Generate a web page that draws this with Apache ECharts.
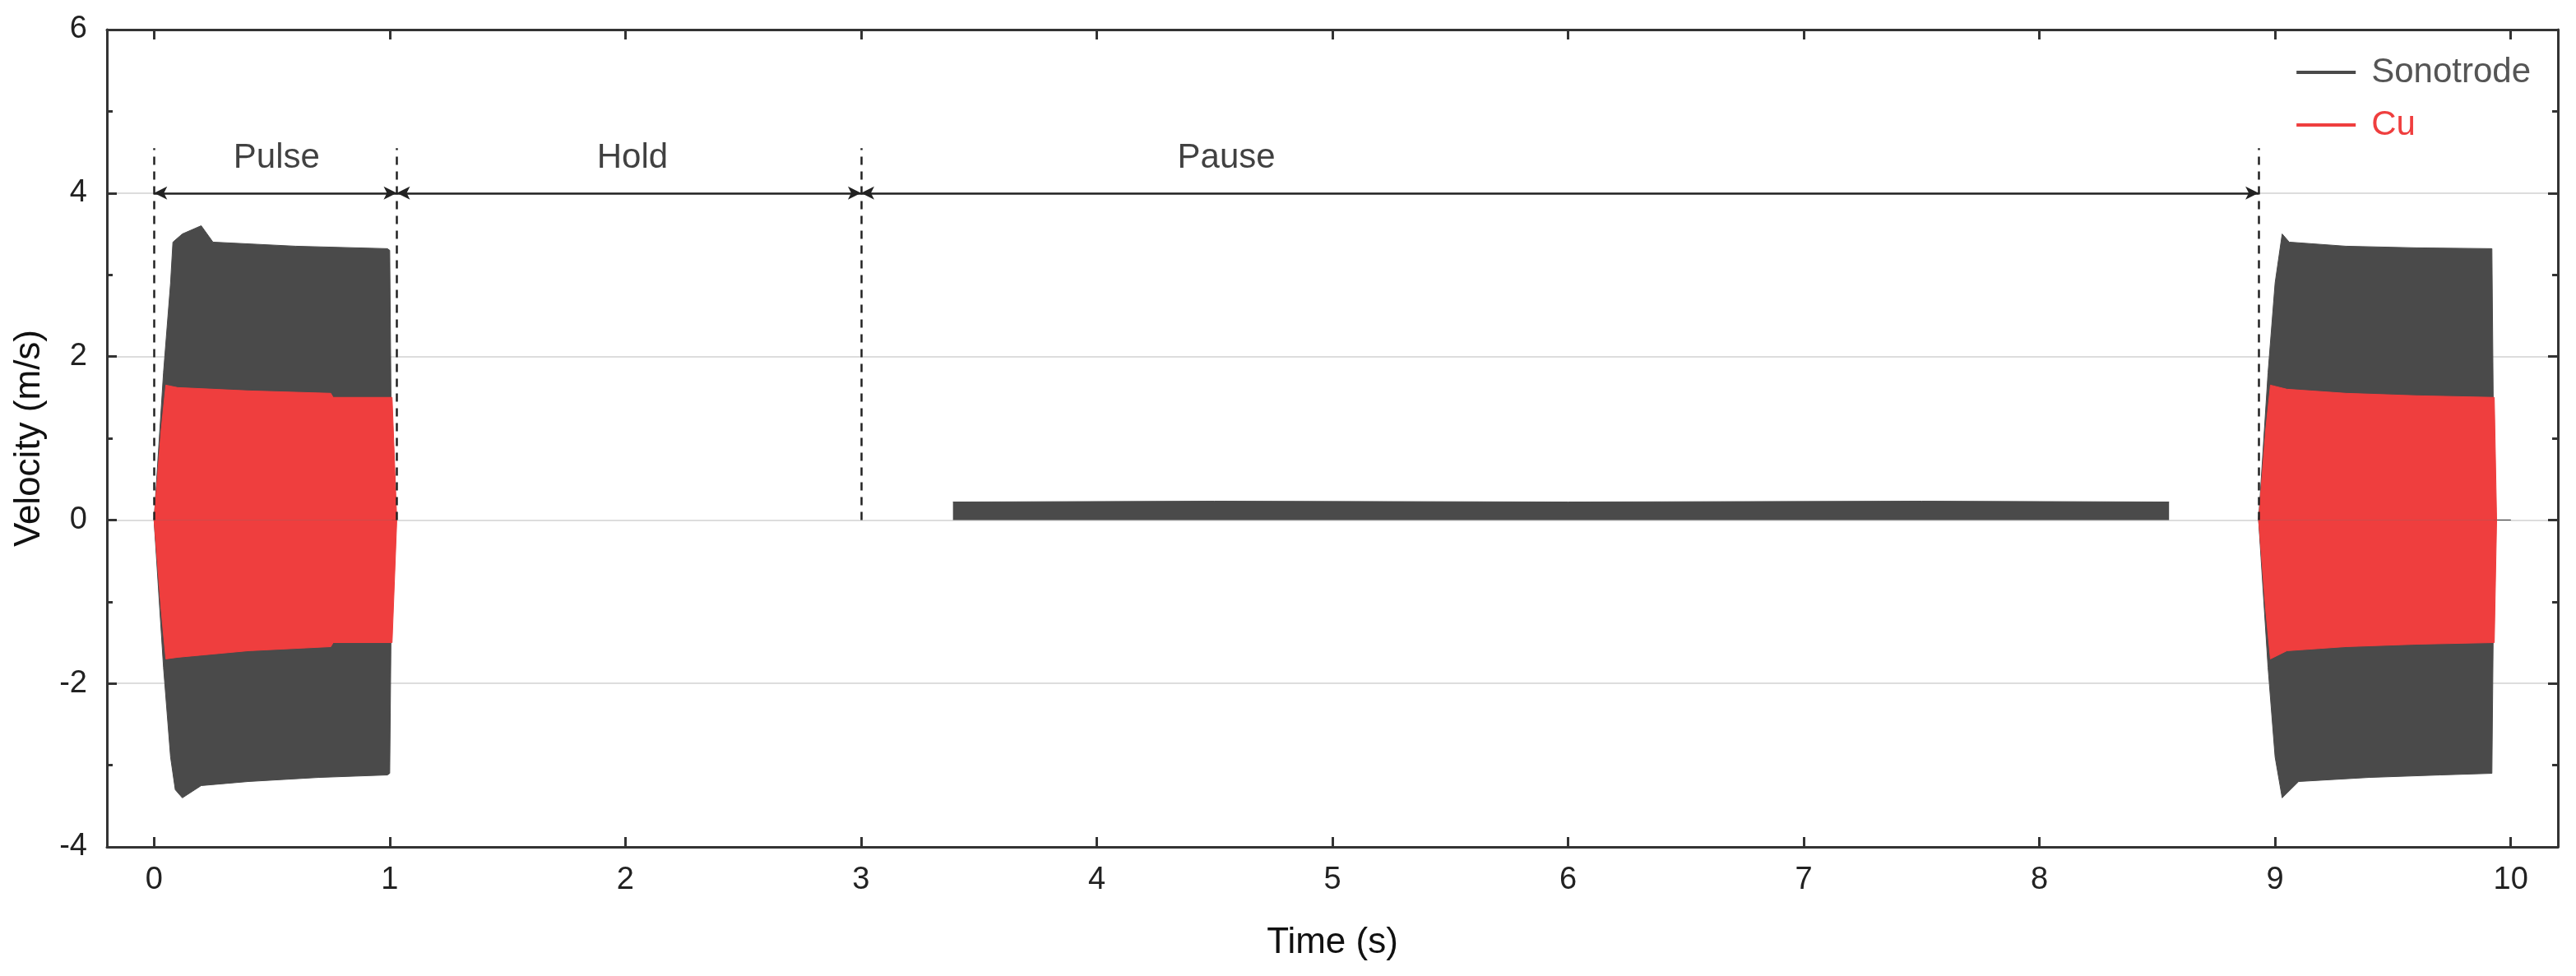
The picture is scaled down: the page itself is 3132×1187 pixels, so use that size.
<!DOCTYPE html><html><head><meta charset="utf-8">
<script src="https://cdn.jsdelivr.net/npm/echarts@6/dist/echarts.min.js"></script>
<style>html,body{margin:0;padding:0;background:#fff}#c{width:3132px;height:1187px}</style></head><body><div id="c"></div>
<script>
// envelope samples [time, velocity]
const sonoUpper1 = [[0,0],[0.04,1.8],[0.07,2.9],[0.08,3.4],[0.12,3.5],[0.2,3.6],[0.25,3.4],[0.6,3.35],[0.99,3.32],[1.0,3.3],[1.01,0],[1.03,0]];
const sonoLower1 = [[0,0],[0.04,-1.8],[0.07,-2.9],[0.09,-3.3],[0.12,-3.4],[0.2,-3.25],[0.4,-3.2],[0.7,-3.15],[0.99,-3.12],[1.0,-3.1],[1.01,0],[1.03,0]];
const cuUpper1 = [[0,0],[0.03,1.1],[0.05,1.65],[0.1,1.62],[0.4,1.58],[0.75,1.55],[0.76,1.5],[1.01,1.5],[1.03,0]];
const cuLower1 = [[0,0],[0.03,-1.1],[0.05,-1.7],[0.1,-1.68],[0.4,-1.6],[0.75,-1.55],[0.76,-1.5],[1.01,-1.5],[1.03,0]];
const sonoUpper2 = [[8.93,0],[8.97,1.8],[9.0,2.9],[9.03,3.5],[9.06,3.4],[9.3,3.35],[9.6,3.33],[9.92,3.32],[9.93,0],[10.0,0]];
const sonoLower2 = [[8.93,0],[8.97,-1.8],[9.0,-2.9],[9.03,-3.4],[9.1,-3.2],[9.4,-3.15],[9.7,-3.12],[9.92,-3.1],[9.93,0],[10.0,0]];
const cuUpper2 = [[8.93,0],[8.96,1.1],[8.98,1.65],[9.05,1.6],[9.3,1.55],[9.6,1.52],[9.93,1.5],[9.94,0]];
const cuLower2 = [[8.93,0],[8.96,-1.1],[8.98,-1.7],[9.05,-1.6],[9.3,-1.55],[9.6,-1.52],[9.93,-1.5],[9.94,0]];
const pauseUpper = [[3.39,0.22],[4.5,0.23],[6,0.22],[7.5,0.23],[8.55,0.22]];
const pauseLower = 0.0;
const phaseBounds = [0, 1.03, 3.0, 8.93];
const phaseLabels = [['Pulse',0.52],['Hold',2.03],['Pause',4.55]];
const xTicks = [0,1,2,3,4,5,6,7,8,9,10];

const DARK='#4a4a4a', RED='#ef3e3e';
const font='Liberation Sans, Arial, sans-serif';
function band(name,data,color,origin){return {name,type:'line',data,symbol:'none',lineStyle:{color,width:1},itemStyle:{color},areaStyle:{color,opacity:1,origin:origin===undefined?0:origin},z:color===RED?4:3,silent:true};}
const series=[
 band('Sonotrode',sonoUpper1,DARK), band('Sonotrode',sonoLower1,DARK),
 band('Sonotrode',sonoUpper2,DARK), band('Sonotrode',sonoLower2,DARK),
 band('Sonotrode',pauseUpper,DARK,pauseLower),
 band('Cu',cuUpper1,RED), band('Cu',cuLower1,RED), band('Cu',cuUpper2,RED), band('Cu',cuLower2,RED),
 {type:'line',data:[],symbol:'none',z:6,
  markLine:{silent:true,symbol:['none','none'],label:{show:false},
   lineStyle:{color:'#222',type:[10,8],width:2.5},
   data:phaseBounds.map(b=>[{coord:[b,0]},{coord:[b,4.55]}])}},
 {type:'line',data:[],symbol:'none',z:6,
  markLine:{silent:true,symbol:['arrow','arrow'],symbolSize:[12,16],label:{show:false},
   lineStyle:{color:'#222',type:'solid',width:2.5},
   data:phaseBounds.slice(0,-1).map((b,i)=>[{coord:[b,4]},{coord:[phaseBounds[i+1],4]}])}},
 {type:'scatter',data:phaseLabels.map(p=>[p[1],4.43,p[0]]),symbolSize:0,z:7,
  label:{show:true,formatter:p=>p.data[2],position:'inside',color:'#111',fontSize:42,fontFamily:font}}
];
const chart=echarts.init(document.getElementById('c'));
const line={onZero:false,show:true,lineStyle:{color:'#333',width:3}};
const tick={inside:true,length:12,lineStyle:{color:'#333',width:3}};
const minor={show:true,splitNumber:2,length:7,lineStyle:{color:'#333',width:3}};
chart.setOption({
 animation:false,
 grid:{left:130,right:22,top:36,bottom:157},
 legend:{right:50,top:62,orient:'vertical',itemWidth:72,itemHeight:4,itemGap:22,icon:'rect',
  data:[{name:'Sonotrode',textStyle:{color:'#555'}},{name:'Cu',textStyle:{color:RED}}],
  textStyle:{fontSize:42,fontFamily:font,padding:[0,0,0,14]}},
 xAxis:[{type:'value',min:-0.2,max:10.2,
  axisLabel:{fontSize:38,color:'#222',fontFamily:font,margin:22,customValues:xTicks},
  axisTick:{...tick,customValues:xTicks},minorTick:minor,axisLine:line,
  splitLine:{show:false},name:'Time (s)',nameLocation:'middle',nameGap:95,nameTextStyle:{fontSize:44,color:'#111',fontFamily:font}},
  {type:'value',position:'top',min:-0.2,max:10.2,axisLabel:{show:false,customValues:xTicks},
  axisTick:{...tick,customValues:xTicks},minorTick:minor,axisLine:line,splitLine:{show:false}}],
 yAxis:[{type:'value',min:-4,max:6,interval:2,
  axisLabel:{fontSize:38,color:'#222',fontFamily:font,margin:24},
  axisTick:tick,minorTick:minor,axisLine:line,
  splitLine:{show:true,lineStyle:{color:'#ddd',width:2}},
  name:'Velocity (m/s)',nameLocation:'middle',nameGap:72,nameTextStyle:{fontSize:44,color:'#111',fontFamily:font}},
  {type:'value',position:'right',min:-4,max:6,interval:2,axisLabel:{show:false},
  axisTick:tick,minorTick:minor,axisLine:line,splitLine:{show:false}}],
 series
});
</script></body></html>
